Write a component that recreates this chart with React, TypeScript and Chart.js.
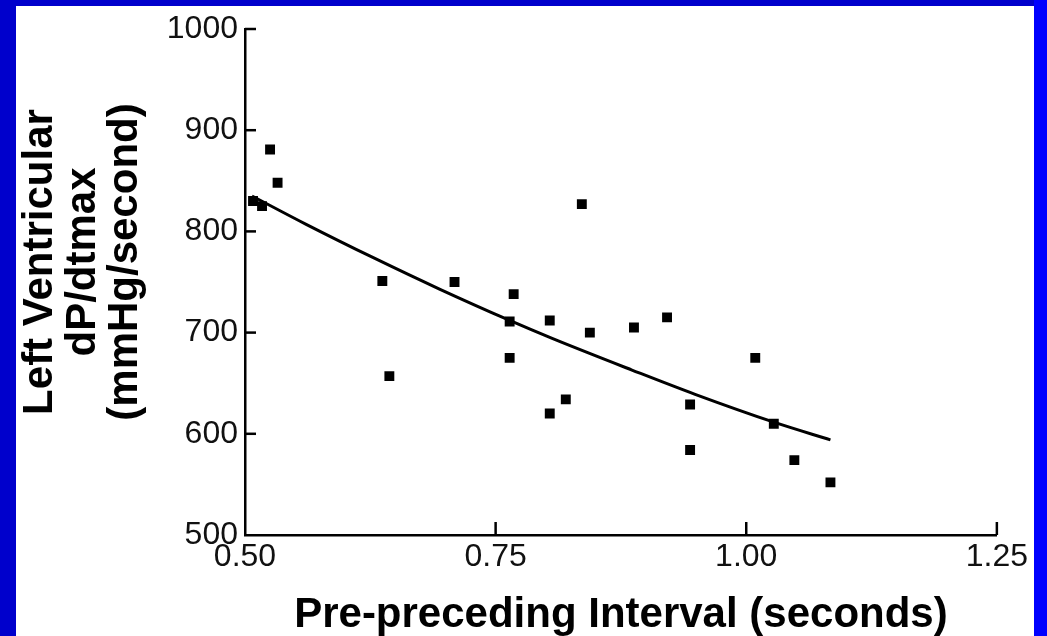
import React, { useEffect, useRef } from "react";
import { Chart, registerables } from "chart.js";

Chart.register(...registerables);

// ---- data ----
const intervalSeconds = [
  0.525, 0.5325, 0.508, 0.517, 0.637, 0.644, 0.709, 0.768, 0.764, 0.764, 0.836, 0.804,
  0.844, 0.82, 0.804, 0.888, 0.921, 1.009, 0.944, 0.944, 1.0275, 1.048, 1.084,
];
const dPdtmax = [
  881, 848, 830, 825, 751, 657, 750, 738, 711, 675, 827, 712,
  700, 634, 620, 705, 715, 675, 629, 584, 610, 574, 552,
];
const fitX = [0.507, 0.561, 0.628, 0.694, 0.764, 0.807, 0.886, 0.949, 1.029, 1.084];
const fitY = [835, 807, 774, 743, 712, 694, 663, 639, 611, 594];
const xTicks = [0.5, 0.75, 1.0, 1.25];
const yTicks = [500, 600, 700, 800, 900, 1000];
const xTitle = "Pre-preceding Interval (seconds)";
const yTitle = ["Left Ventricular", "dP/dtmax", "(mmHg/second)"];

const FONT = '"Liberation Sans", Arial, Helvetica, sans-serif';

const decorations = {
  id: "decorations",
  afterDraw(chart: any) {
    const { ctx, chartArea, scales } = chart;
    ctx.save();
    ctx.strokeStyle = "#000";
    ctx.lineWidth = 2.5;
    for (const v of yTicks) {
      if (v === yTicks[0]) continue;
      const y = scales.y.getPixelForValue(v);
      ctx.beginPath();
      ctx.moveTo(chartArea.left, y);
      ctx.lineTo(chartArea.left + 11, y);
      ctx.stroke();
    }
    for (const v of xTicks) {
      if (v === xTicks[0]) continue;
      const x = scales.x.getPixelForValue(v);
      ctx.beginPath();
      ctx.moveTo(x, chartArea.bottom);
      ctx.lineTo(x, chartArea.bottom - 13);
      ctx.stroke();
    }
    ctx.fillStyle = "#000";
    ctx.textAlign = "center";
    ctx.textBaseline = "alphabetic";
    ctx.font = `bold 42px ${FONT}`;
    ctx.fillText(xTitle, (chartArea.left + chartArea.right) / 2, 621);
    ctx.font = `bold 42px ${FONT}`;
    const baselines = [36, 79, 121];
    yTitle.forEach((line, i) => {
      ctx.save();
      ctx.translate(baselines[i], 256);
      ctx.rotate(-Math.PI / 2);
      ctx.fillText(line, 0, 0);
      ctx.restore();
    });
    ctx.restore();
  },
};

export default function App() {
  const ref = useRef<HTMLCanvasElement | null>(null);

  useEffect(() => {
    if (!ref.current) return;
    const chart = new Chart(ref.current, {
      type: "scatter",
      data: {
        datasets: [
          {
            label: "fit",
            data: fitX.map((x, i) => ({ x, y: fitY[i] })),
            showLine: true,
            borderColor: "#000",
            borderWidth: 3,
            pointRadius: 0,
            cubicInterpolationMode: "monotone",
            fill: false,
          } as any,
          {
            label: "beats",
            data: intervalSeconds.map((x, i) => ({ x, y: dPdtmax[i] })),
            pointStyle: "rect",
            pointRadius: 7,
            pointBorderWidth: 0,
            backgroundColor: "#000",
            borderColor: "#000",
          } as any,
        ],
      },
      options: {
        animation: false,
        responsive: false,
        devicePixelRatio: 1,
        layout: { padding: { top: 16, right: 35, left: 0, bottom: 0 } },
        plugins: { legend: { display: false }, tooltip: { enabled: false } },
        scales: {
          x: {
            type: "linear",
            min: 0.5,
            max: 1.25,
            grid: { display: false, drawTicks: false },
            border: { display: true, color: "#000", width: 2.5 },
            afterBuildTicks: (s: any) => {
              s.ticks = xTicks.map((v) => ({ value: v }));
            },
            afterFit: (s: any) => {
              s.height = 101;
            },
            ticks: {
              color: "#111",
              padding: 6,
              maxRotation: 0,
              font: { family: FONT, size: 32, lineHeight: 1 },
              callback: (v: any) => Number(v).toFixed(2),
            },
          },
          y: {
            type: "linear",
            min: 500,
            max: 1000,
            grid: { display: false, drawTicks: false },
            border: { display: true, color: "#000", width: 2.5 },
            afterBuildTicks: (s: any) => {
              s.ticks = yTicks.map((v) => ({ value: v }));
            },
            afterFit: (s: any) => {
              s.width = 229;
            },
            ticks: {
              color: "#111",
              padding: 7,
              font: { family: FONT, size: 32, lineHeight: 1 },
              callback: (v: any) => String(v),
            },
          },
        },
      },
      plugins: [decorations],
    });
    return () => chart.destroy();
  }, []);

  return (
    <div
      style={{
        position: "fixed",
        left: 0,
        top: 0,
        width: 1047,
        height: 636,
        background: "#0000cc",
        overflow: "hidden",
      }}
    >
      <div
        style={{
          position: "absolute",
          left: 1034,
          top: 0,
          width: 13,
          height: 636,
          background: "#0000ff",
        }}
      />
      <div
        style={{
          position: "absolute",
          left: 16,
          top: 6,
          width: 1018,
          height: 630,
          background: "#fff",
        }}
      >
        <canvas ref={ref} width={1018} height={630} style={{ display: "block", width: 1018, height: 630 }} />
      </div>
    </div>
  );
}
